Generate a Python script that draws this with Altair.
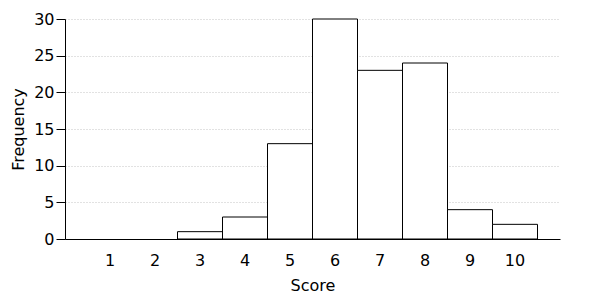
import altair as alt
import pandas as pd

scores = [str(i) for i in range(1, 11)]
freqs = [0, 0, 1, 3, 13, 30, 23, 24, 4, 2]

df = pd.DataFrame({"Score": scores, "Frequency": freqs})

FONT = "DejaVu Sans"
FS = 16

chart = alt.Chart(df).mark_bar(
    fill="white", stroke="black", strokeWidth=1
).encode(
    x=alt.X("Score:N", sort=scores,
            scale=alt.Scale(paddingInner=0, paddingOuter=0.5),
            axis=alt.Axis(title="Score", labelAngle=0, ticks=False, tickSize=0,
                          labelPadding=13, titlePadding=9, grid=False,
                          domainColor="black", labelColor="black",
                          titleColor="black", labelFontSize=FS, titleFontSize=FS,
                          titleFontWeight="normal", labelFont=FONT, titleFont=FONT)),
    y=alt.Y("Frequency:Q",
            scale=alt.Scale(domain=[0, 30], nice=False),
            axis=alt.Axis(title="Frequency", values=[0, 5, 10, 15, 20, 25, 30],
                          tickSize=9, labelPadding=2, titlePadding=7,
                          grid=True, gridDash=[1, 2], gridColor="#c4c4c4",
                          domainColor="black", tickColor="black",
                          labelColor="black", titleColor="black",
                          labelFontSize=FS, titleFontSize=FS,
                          titleFontWeight="normal", labelFont=FONT, titleFont=FONT)),
    strokeOpacity=alt.condition(alt.datum.Frequency > 0, alt.value(1), alt.value(0)),
).properties(
    width=495, height=220,
    autosize=alt.AutoSizeParams(type="none"),
    padding={"left": 65, "top": 19, "right": 40, "bottom": 61},
).configure_view(stroke=None)

chart.save("out.html", embed_options={"renderer": "svg", "actions": False})
